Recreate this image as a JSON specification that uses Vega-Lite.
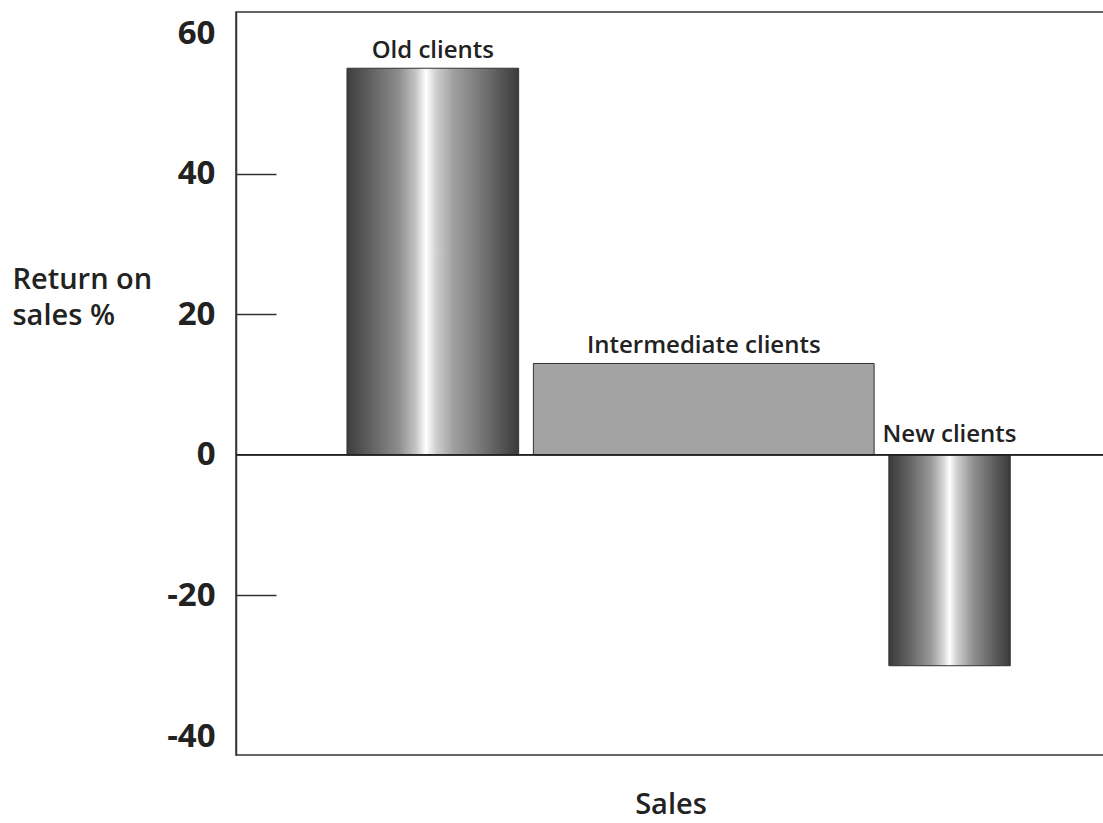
{
  "$schema": "https://vega.github.io/schema/vega-lite/v6.json",
  "width": 869,
  "height": 743,
  "autosize": {"type": "none"},
  "padding": {"left": 236, "top": 12, "right": 0, "bottom": 68},
  "background": "white",
  "config": {
    "view": {"stroke": "#333", "strokeWidth": 1.5},
    "font": "Open Sans"
  },
  "data": {
    "values": [
      {"segment": "Old clients", "start": 12.8, "end": 32.6, "ros": 55},
      {"segment": "Intermediate clients", "start": 34.3, "end": 73.6, "ros": 13},
      {"segment": "New clients", "start": 75.3, "end": 89.3, "ros": -30}
    ]
  },
  "transform": [{"calculate": "(datum.start + datum.end) / 2", "as": "mid"}],
  "encoding": {
    "x": {
      "type": "quantitative",
      "scale": {"domain": [0, 100.23], "nice": false, "zero": false},
      "axis": {
        "title": "Sales",
        "titleFontSize": 29,
        "titleFontWeight": 600,
        "titleColor": "#222",
        "titleBaseline": "alphabetic",
        "titleY": 58,
        "labels": false,
        "ticks": false,
        "domain": false,
        "grid": false
      }
    },
    "y": {
      "type": "quantitative",
      "scale": {"domain": [-42.7, 63], "nice": false, "zero": false},
      "axis": {
        "title": ["Return on", "sales %"],
        "titleAngle": 0,
        "titleAlign": "left",
        "titleBaseline": "top",
        "titleX": -224,
        "titleY": 253,
        "titleFontSize": 29,
        "titleFontWeight": 600,
        "titleLineHeight": 36,
        "titleColor": "#222",
        "values": [60, 40, 20, 0, -20, -40],
        "labelExpr": "datum.value < 0 ? '-' + abs(datum.value) : '' + datum.value",
        "labelFontSize": 33,
        "labelFontWeight": "bold",
        "labelColor": "#222",
        "labelPadding": 61,
        "tickSize": -40,
        "tickWidth": 1.5,
        "tickColor": {
          "condition": {"test": "datum.value == 0 || datum.value == 60 || datum.value == -40", "value": "transparent"},
          "value": "#333"
        },
        "domainColor": "#333",
        "domainWidth": 1.5,
        "grid": false
      }
    }
  },
  "layer": [
    {
      "transform": [{"filter": "datum.segment == 'Old clients'"}],
      "mark": {
        "type": "bar",
        "stroke": "#333",
        "strokeWidth": 1,
        "color": {
          "gradient": "linear", "x1": 0, "x2": 1, "y1": 0, "y2": 0,
          "stops": [
            {"offset": 0, "color": "#3e3e3e"},
            {"offset": 0.12, "color": "#5c5c5c"},
            {"offset": 0.3, "color": "#8c8c8c"},
            {"offset": 0.4, "color": "#c4c4c4"},
            {"offset": 0.46, "color": "#ffffff"},
            {"offset": 0.52, "color": "#cfcfcf"},
            {"offset": 0.62, "color": "#a0a0a0"},
            {"offset": 0.82, "color": "#6c6c6c"},
            {"offset": 1, "color": "#3a3a3a"}
          ]
        }
      },
      "encoding": {
        "x": {"field": "start", "type": "quantitative"},
        "x2": {"field": "end"},
        "y": {"field": "ros", "type": "quantitative"},
        "y2": {"datum": 0}
      }
    },
    {
      "transform": [{"filter": "datum.segment == 'New clients'"}],
      "mark": {
        "type": "bar",
        "stroke": "#333",
        "strokeWidth": 1,
        "color": {
          "gradient": "linear", "x1": 0, "x2": 1, "y1": 0, "y2": 0,
          "stops": [
            {"offset": 0, "color": "#3a3a3a"},
            {"offset": 0.15, "color": "#5e5e5e"},
            {"offset": 0.35, "color": "#9a9a9a"},
            {"offset": 0.45, "color": "#d6d6d6"},
            {"offset": 0.5, "color": "#ffffff"},
            {"offset": 0.56, "color": "#d0d0d0"},
            {"offset": 0.7, "color": "#8e8e8e"},
            {"offset": 0.88, "color": "#5a5a5a"},
            {"offset": 1, "color": "#3a3a3a"}
          ]
        }
      },
      "encoding": {
        "x": {"field": "start", "type": "quantitative"},
        "x2": {"field": "end"},
        "y": {"field": "ros", "type": "quantitative"},
        "y2": {"datum": 0}
      }
    },
    {
      "transform": [{"filter": "datum.segment == 'Intermediate clients'"}],
      "mark": {"type": "bar", "color": "#a3a3a3", "stroke": "#333", "strokeWidth": 1},
      "encoding": {
        "x": {"field": "start", "type": "quantitative"},
        "x2": {"field": "end"},
        "y": {"field": "ros", "type": "quantitative"},
        "y2": {"datum": 0}
      }
    },
    {
      "mark": {"type": "rule", "color": "#222", "strokeWidth": 1.5},
      "encoding": {"y": {"datum": 0, "type": "quantitative"}}
    },
    {
      "transform": [{"filter": "datum.ros > 0"}],
      "mark": {"type": "text", "font": "Open Sans", "fontSize": 24, "fontWeight": 600, "color": "#222", "baseline": "alphabetic", "dy": -10},
      "encoding": {
        "x": {"field": "mid", "type": "quantitative"},
        "y": {"field": "ros", "type": "quantitative"},
        "text": {"field": "segment"}
      }
    },
    {
      "transform": [{"filter": "datum.ros < 0"}],
      "mark": {"type": "text", "font": "Open Sans", "fontSize": 24, "fontWeight": 600, "color": "#222", "baseline": "alphabetic", "dy": -13},
      "encoding": {
        "x": {"field": "mid", "type": "quantitative"},
        "y": {"datum": 0, "type": "quantitative"},
        "text": {"field": "segment"}
      }
    }
  ]
}
